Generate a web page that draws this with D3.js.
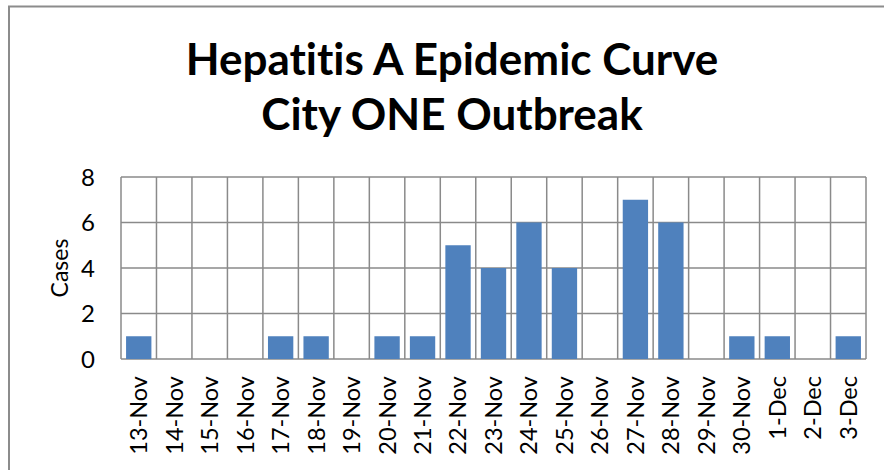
<!DOCTYPE html>
<html>
<head>
<meta charset="utf-8">
<script src="https://cdn.jsdelivr.net/npm/d3@7"></script>
<style>
  html, body { margin: 0; padding: 0; background: #fff; }
  svg { display: block; }
  text { font-family: Lato, "Open Sans", sans-serif; fill: #000; font-variant-ligatures: none; font-feature-settings: "liga" 0; }
</style>
</head>
<body>
<svg id="chart" width="884" height="470"></svg>
<script>
// Daily onset dates and case counts
const dates = ["13-Nov","14-Nov","15-Nov","16-Nov","17-Nov","18-Nov","19-Nov","20-Nov","21-Nov",
  "22-Nov","23-Nov","24-Nov","25-Nov","26-Nov","27-Nov","28-Nov","29-Nov","30-Nov","1-Dec","2-Dec","3-Dec"];
const cases = [1,0,0,0,1,1,0,1,1,5,4,6,4,0,7,6,0,1,1,0,1];
const yTicks = [0,2,4,6,8];
const titleLines = ["Hepatitis A Epidemic Curve", "City ONE Outbreak"];
const yLabel = "Cases";

const svg = d3.select("#chart");
const gridColor = "#8a8a8a";
const barColor = "#4f81bd";

// outer frame
svg.append("rect")
  .attr("x", 9).attr("y", 6.5)
  .attr("width", 900).attr("height", 500)
  .attr("fill", "none").attr("stroke", "#8c8c8c").attr("stroke-width", 2);

const plot = { left: 121, right: 866, top: 177, bottom: 359 };

const x = d3.scaleBand().domain(dates).range([plot.left, plot.right]).paddingInner(0).paddingOuter(0);
const y = d3.scaleLinear().domain([0, 8]).range([plot.bottom, plot.top]);

// title
svg.append("g").selectAll("text").data(titleLines).join("text")
  .attr("x", 452)
  .attr("y", (d, i) => 75 + i * 55)
  .attr("text-anchor", "middle")
  .attr("font-weight", "bold")
  .attr("font-size", 44)
  .text(d => d);

// horizontal gridlines
svg.append("g").selectAll("line").data(yTicks).join("line")
  .attr("x1", plot.left).attr("x2", plot.right)
  .attr("y1", d => y(d)).attr("y2", d => y(d))
  .attr("stroke", gridColor).attr("stroke-width", 1.5);

// vertical gridlines at category boundaries
const bounds = dates.map(d => x(d)).concat([plot.right]);
svg.append("g").selectAll("line").data(bounds).join("line")
  .attr("x1", d => d).attr("x2", d => d)
  .attr("y1", plot.top).attr("y2", plot.bottom)
  .attr("stroke", gridColor).attr("stroke-width", 1.5);

// bars (gap width 40%)
const bw = x.bandwidth() / 1.4;
svg.append("g").selectAll("rect").data(cases.map((v, i) => ({ d: dates[i], v })).filter(o => o.v > 0)).join("rect")
  .attr("x", o => x(o.d) + (x.bandwidth() - bw) / 2)
  .attr("width", bw)
  .attr("y", o => y(o.v))
  .attr("height", o => y(0) - y(o.v))
  .attr("fill", barColor);

// y tick labels
svg.append("g").selectAll("text").data(yTicks).join("text")
  .attr("x", 95)
  .attr("y", d => y(d))
  .attr("dy", "0.36em")
  .attr("text-anchor", "end")
  .attr("font-size", 24)
  .text(d => d);

// x tick labels, rotated
svg.append("g").selectAll("text").data(dates).join("text")
  .attr("transform", d => `translate(${x(d) + x.bandwidth() / 2},376) rotate(-90)`)
  .attr("dy", "0.36em")
  .attr("text-anchor", "end")
  .attr("font-size", 23.5)
  .text(d => d);

// y axis title
svg.append("text")
  .attr("transform", "translate(60,268) rotate(-90)")
  .attr("dy", "0.36em")
  .attr("text-anchor", "middle")
  .attr("font-size", 23)
  .text(yLabel);
</script>
</body>
</html>
